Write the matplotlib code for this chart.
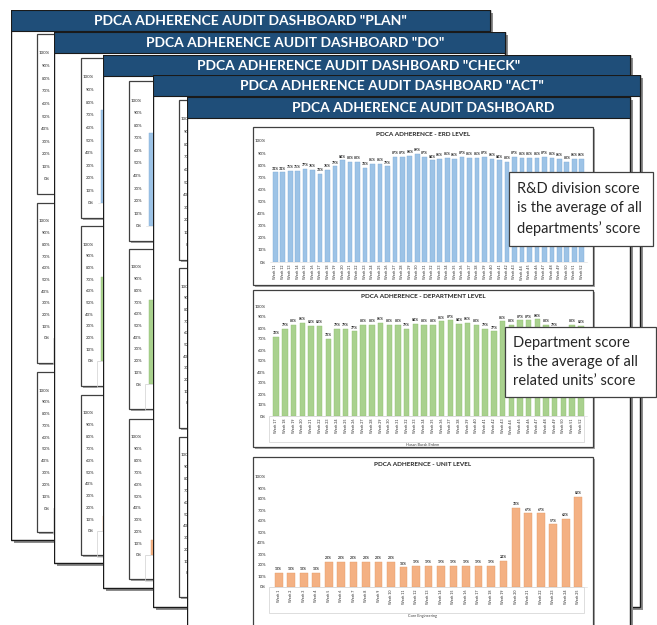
import numpy as np
import matplotlib.pyplot as plt
from matplotlib.patches import Rectangle
from matplotlib.ticker import PercentFormatter

plt.rcParams['font.family'] = ['Lato', 'DejaVu Sans']

W, H = 657, 625

# chart data
erd_weeks = ['Week %d' % w for w in range(11, 53)]
erd_scores = [74, 74, 75, 75, 77, 76, 73, 76, 79, 84, 83, 83, 78, 81, 81, 79,
              87, 87, 88, 89, 87, 84, 85, 86, 85, 87, 86, 86, 87, 85, 84, 83,
              87, 86, 86, 86, 87, 86, 85, 83, 85, 85]
dept_weeks = ['Week %d' % w for w in range(17, 53)]
dept_scores = [72, 79, 83, 85, 82, 82, 70, 79, 79, 77, 83, 83, 85, 83, 83, 79,
               84, 83, 83, 86, 87, 84, 85, 83, 79, 77, 86, 83, 87, 87, 88, 83,
               79, 76, 83, 82]
unit_weeks = ['Week %d' % w for w in range(1, 26)]
unit_scores = [13, 13, 13, 13, 23, 23, 23, 23, 23, 23, 18, 19, 19, 19, 19, 19,
               19, 19, 24, 72, 67, 67, 57, 62, 82]

chart_titles = ['PDCA ADHERENCE - ERD LEVEL', 'PDCA ADHERENCE - DEPARTMENT LEVEL',
                'PDCA ADHERENCE - UNIT LEVEL']
axis_titles = ['', 'Hasan Burak Erdem', 'Core Engineering']
page_titles = ['PDCA ADHERENCE AUDIT DASHBOARD "PLAN"', 'PDCA ADHERENCE AUDIT DASHBOARD "DO"',
               'PDCA ADHERENCE AUDIT DASHBOARD "CHECK"', 'PDCA ADHERENCE AUDIT DASHBOARD "ACT"',
               'PDCA ADHERENCE AUDIT DASHBOARD']
notes = ['R&D division score\nis the average of all\ndepartments\u2019 score',
         'Department score\nis the average of all\nrelated units\u2019 score']

series = [(erd_weeks, erd_scores, '#9dc3e6', '#7fadd8'),
          (dept_weeks, dept_scores, '#a9d18e', '#8fbf70'),
          (unit_weeks, unit_scores, '#f4b183', '#e49a68')]

# page layout in pixels: left, top, right, bottom, title centre, chart frame left, frame tops
pages = [(11, 10, 490, 540, 250, 37, [34, 203, 372]),
         (54, 32, 505, 563, 295, 81, [58, 226, 395]),
         (103, 55, 630, 588, 359, 129, [81, 249, 419]),
         (153, 75, 640, 607, 392, 179, [100, 268, 437]),
         (187, 97, 630, 660, 423, 253, [127, 290, 457])]
back_inner = [(19, 145), (18, 135), (18, 136)]
front_inner = [(14, 135), (16, 126), (20, 130)]
NAVY = '#1f4e79'

fig = plt.figure(figsize=(W / 100, H / 100), dpi=100)


def box(x0, y0, x1, y1):
    return [x0 / W, 1 - y1 / H, (x1 - x0) / W, (y1 - y0) / H]


def chart(pax, fx, fy, fw, fh, inner, k, front):
    labels, vals, color, edge = series[k]
    top, zero = inner
    pax.add_patch(Rectangle((fx + 1.5, fy + 1.5), fw, fh, fc='#a6a6a6', ec='none'))
    pax.add_patch(Rectangle((fx, fy), fw, fh, fc='white', ec='#404040', lw=0.9))
    if k > 0:
        pax.add_patch(Rectangle((fx + 16, fy + zero), fw - 25, 26, fc='none', ec='#d0d0d0', lw=0.5))
    if front:
        # the back pages hide everything but the left edge of their charts
        pax.text(fx + fw / 2, fy + 7, chart_titles[k], ha='center', va='center',
                 fontsize=4.6, fontweight='bold', color='#262626')
        if k > 0:
            pax.text(fx + fw / 2, fy + zero + 29, axis_titles[k], ha='center', va='center',
                     fontsize=2.8, color='#404040')
    ax = fig.add_axes(box(fx + 17, fy + top, fx + fw - 6, fy + zero))
    x = np.arange(len(vals))
    v = np.array(vals) / 100
    ax.bar(x, v, width=0.62, color=color, edgecolor=edge, linewidth=0.3)
    ax.set_ylim(0, 1)
    ax.set_xlim(-0.7, len(vals) - 0.3)
    ax.set_yticks(np.arange(0, 1.01, 0.1))
    ax.yaxis.set_major_formatter(PercentFormatter(1, decimals=0))
    ax.tick_params(axis='y', length=0, labelsize=3.2, pad=3, labelcolor='#262626')
    if front:
        ax.set_xticks(x, labels, rotation=90, fontsize=2.6, color='#262626')
        ax.tick_params(axis='x', length=0, pad=2)
        for xi, vi, lab in zip(x, v, vals):
            ax.text(xi, vi + 0.015, '%d%%' % lab, ha='center', va='bottom',
                    fontsize=2.5, fontweight='bold', color='#262626')
    else:
        ax.set_xticks([])
    for s in ['top', 'right', 'left']:
        ax.spines[s].set_visible(False)
    ax.spines['bottom'].set_color('#d9d9d9')
    ax.spines['bottom'].set_linewidth(0.4)
    ax.patch.set_alpha(0)


for i, (l, t, r, b, tc, fx, tops) in enumerate(pages):
    pax = fig.add_axes(box(l, t, r + 4, b + 4))
    pax.set_xlim(l, r + 4)
    pax.set_ylim(b + 4, t)
    pax.axis('off')
    pax.add_patch(Rectangle((l + 3, t + 3), r - l, b - t, fc='#8c8c8c', ec='none'))
    pax.add_patch(Rectangle((l, t), r - l, b - t, fc='white', ec='#1a1a1a', lw=1.0))
    pax.add_patch(Rectangle((l, t), r - l, 21, fc=NAVY, ec='#1a1a1a', lw=0.8))
    pax.text(tc, t + 11, page_titles[i], ha='center', va='center', color='white',
             fontsize=10, fontweight='bold')
    front = i == len(pages) - 1
    for k, fy in enumerate(tops):
        fh = 160 if not front else [158, 157, 170][k]
        chart(pax, fx, fy, 340, fh, (front_inner if front else back_inner)[k], k, front)

# call-out boxes on top
ov = fig.add_axes([0, 0, 1, 1])
ov.set_xlim(0, W)
ov.set_ylim(H, 0)
ov.axis('off')
for (x0, y0, x1, y1), note in zip([(509, 172, 653, 246), (505, 327, 656, 397)], notes):
    ov.add_patch(Rectangle((x0, y0), x1 - x0, y1 - y0, fc='white', ec='#404040', lw=0.9))
    ov.text(x0 + 8, (y0 + y1) / 2, note, ha='left', va='center', fontsize=10.5,
            linespacing=1.45, color='#262626')

fig.savefig('out.png', dpi=100)
